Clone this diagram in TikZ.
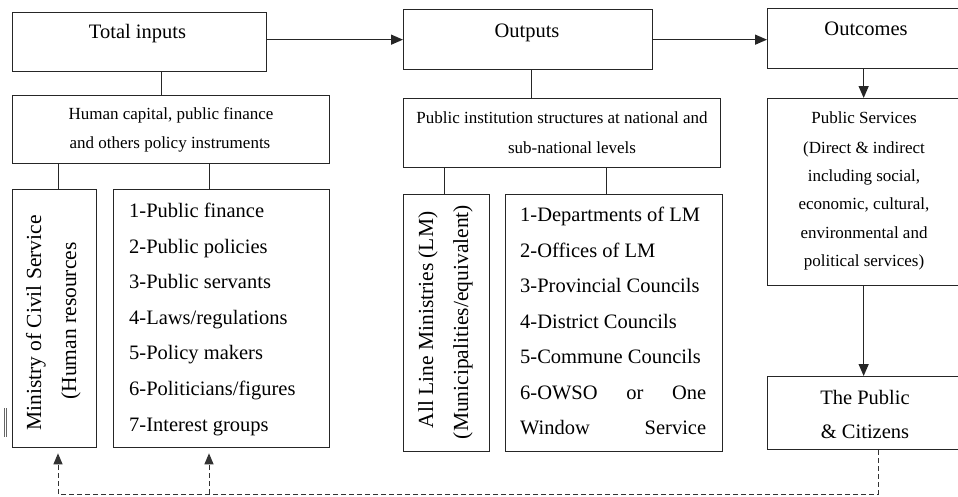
\documentclass[tikz,border=0pt]{standalone}
\usepackage{fontspec}
\setmainfont{Liberation Serif}
\usetikzlibrary{arrows.meta,calc}
\tikzset{
  box/.style={draw=black!85, line width=1.3pt, rectangle, inner sep=0pt, anchor=north west},
  big/.style={font=\fontsize{20.5}{24}\selectfont, inner sep=0pt},
  rbig/.style={font=\fontsize{21.5}{25}\selectfont, inner sep=0pt, rotate=90, anchor=base},
  small/.style={font=\fontsize{17}{20}\selectfont, inner sep=0pt, anchor=base},
  link/.style={draw=black!85, line width=1.3pt},
  arr/.style={link, -{Triangle[length=12pt,width=10pt]}},
  fbarr/.style={draw=black!80, line width=1pt, dash pattern=on 5pt off 3pt, -{Triangle[length=11pt,width=9pt]}},
  fbline/.style={draw=black!80, line width=1pt, dash pattern=on 5pt off 3pt},
}
\begin{document}
\begin{tikzpicture}[x=1pt,y=-1pt]
\useasboundingbox (0,0) rectangle (958,496);
\clip (0,0) rectangle (958,496);

% boxes
\node[box, minimum width=254pt, minimum height=59pt] (ti) at (12,12) {};
\node[box, minimum width=249pt, minimum height=60pt] (out) at (403,9) {};
\node[box, minimum width=200pt, minimum height=60pt] (oc) at (767,8) {};
\node[box, minimum width=317pt, minimum height=68pt] (hc) at (12,95) {};
\node[box, minimum width=317pt, minimum height=69pt] (pi) at (403,98) {};
\node[box, minimum width=200pt, minimum height=187pt] (ps) at (767,98) {};
\node[box, minimum width=84pt, minimum height=258pt] (mcs) at (12,189) {};
\node[box, minimum width=216pt, minimum height=258pt] (l1) at (113,189) {};
\node[box, minimum width=86pt, minimum height=257pt] (alm) at (403,194) {};
\node[box, minimum width=217pt, minimum height=257pt] (l2) at (505,194) {};
\node[box, minimum width=200pt, minimum height=73pt] (pub) at (767,376) {};

% titles
\node[big, anchor=base] (tTi) at (137.5,38) {Total inputs};
\node[big, anchor=base] (tOut) at (527,37) {Outputs};
\node[big, anchor=base] (tOc) at (866,35) {Outcomes};

% human capital
\node[small] (hc1) at (171,119) {Human capital, public finance};
\node[small] (hc2) at (170,148) {and others policy instruments};

% public institution
\node[small] (pi1) at (562,123) {Public institution structures at national and};
\node[small] (pi2) at (572,153) {sub-national levels};

% public services
\node[small] (ps1) at (864,123) {Public Services};
\node[small] (ps2) at (864,153) {(Direct \& indirect};
\node[small] (ps3) at (864,181) {including social,};
\node[small] (ps4) at (864,209) {economic, cultural,};
\node[small] (ps5) at (864,238) {environmental and};
\node[small] (ps6) at (864,266) {political services)};

% the public
\node[big, anchor=base] (pb1) at (865,404) {The Public};
\node[big, anchor=base] (pb2) at (865,438) {\& Citizens};

% rotated texts
\node[rbig] (m1) at (41,323) {Ministry of Civil Service};
\node[rbig] (m2) at (76,321) {(Human resources};
\node[rbig] (a1) at (433,320) {All Line Ministries (LM)};
\node[rbig] (a2) at (468,322) {(Municipalities/equivalent)};

% list 1
\node[big, anchor=base west] (i1) at (129,217.5) {1-Public finance};
\node[big, anchor=base west] (i2) at (129,253) {2-Public policies};
\node[big, anchor=base west] (i3) at (129,288.6) {3-Public servants};
\node[big, anchor=base west] (i4) at (129,324.2) {4-Laws/regulations};
\node[big, anchor=base west] (i5) at (129,359.8) {5-Policy makers};
\node[big, anchor=base west] (i6) at (129,395.4) {6-Politicians/figures};
\node[big, anchor=base west] (i7) at (129,431) {7-Interest groups};

% list 2
\node[big, anchor=base west] (j1) at (520,221.7) {1-Departments of LM};
\node[big, anchor=base west] (j2) at (520,257.2) {2-Offices of LM};
\node[big, anchor=base west] (j3) at (520,292.7) {3-Provincial Councils};
\node[big, anchor=base west] (j4) at (520,328.2) {4-District Councils};
\node[big, anchor=base west] (j5) at (520,363.7) {5-Commune Councils};
\node[big, anchor=base west] (j6) at (520,399.2) {\hbox to 186pt{6-OWSO\hfill or\hfill One}};
\node[big, anchor=base west] (j7) at (520,434.7) {\hbox to 186pt{Window\hfill Service}};

% connectors
\draw[arr] (ti.east |- out.west) -- (out.west);
\draw[arr] (out.east) -- (out.east -| oc.west);
\draw[link] ([xshift=22pt]ti.south) -- ([xshift=22pt]ti.south |- hc.north);
\draw[link] ([xshift=3.5pt]out.south) -- ([xshift=3.5pt]out.south |- pi.north);
\draw[arr] ([xshift=-4pt]oc.south) -- ([xshift=-4pt]ps.north);
\draw[arr] ([xshift=-4pt]ps.south) -- ([xshift=-4pt]pub.north);
\draw[link] ([xshift=4pt]mcs.north |- hc.south) -- ([xshift=4pt]mcs.north);
\draw[link] ([xshift=-12pt]l1.north |- hc.south) -- ([xshift=-12pt]l1.north);
\draw[link] ([xshift=-2pt]alm.north |- pi.south) -- ([xshift=-2pt]alm.north);
\draw[link] ([xshift=-7.5pt]l2.north |- pi.south) -- ([xshift=-7.5pt]l2.north);

% feedback
\coordinate (fr) at (878,494);
\coordinate (fl) at (58,494);
\coordinate (fm) at (209,494);
\draw[fbline] (pub.south -| fr) -- (fr) -- (fl);
\draw[fbarr] (fl) -- ([yshift=-5pt]mcs.south -| fl);
\draw[fbarr] (fm) -- ([yshift=-5pt]l1.south -| fm);

% stray mark
\draw[black!60, line width=0.7pt] (4.5,408) -- (4.5,437);
\draw[black!60, line width=0.7pt] (6.5,408) -- (6.5,437);
\end{tikzpicture}
\end{document}
